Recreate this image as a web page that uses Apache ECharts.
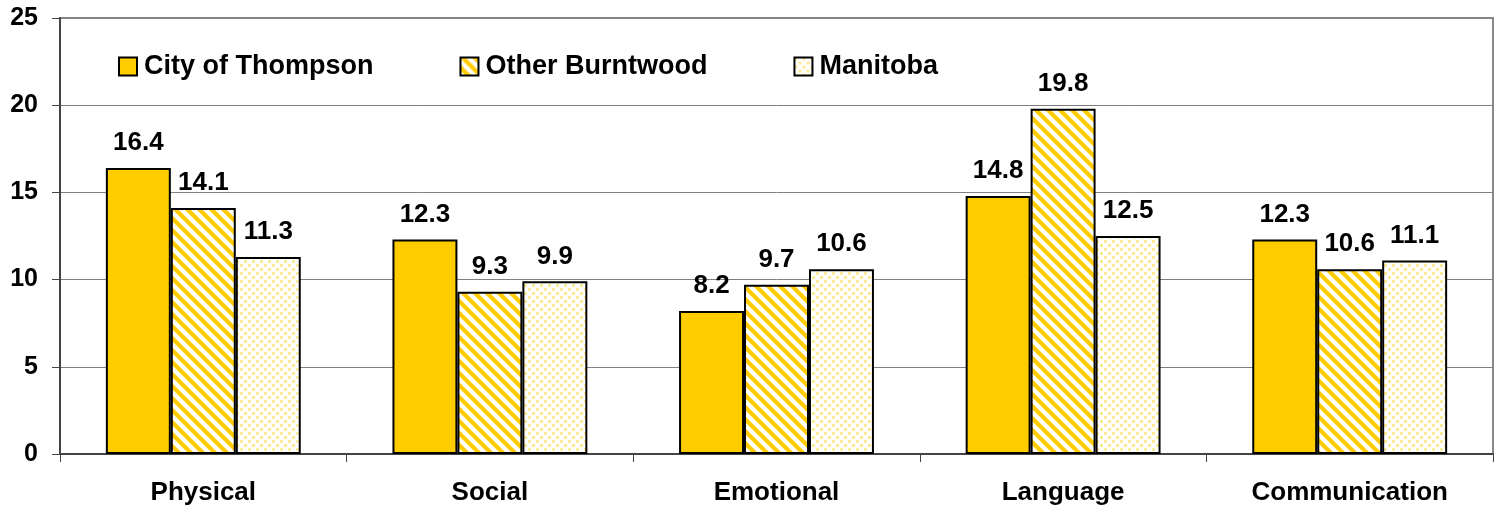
<!DOCTYPE html>
<html>
<head>
<meta charset="utf-8">
<script src="https://cdn.jsdelivr.net/npm/echarts@6/dist/echarts.min.js"></script>
<style>
html,body{margin:0;padding:0;background:#fff;}
#chart{width:1499px;height:510px;}
</style>
</head>
<body>
<div id="chart"></div>
<script>
var categories = ['Physical', 'Social', 'Emotional', 'Language', 'Communication'];
var seriesNames = ['City of Thompson', 'Other Burntwood', 'Manitoba'];
var thompson = [16.4, 12.3, 8.2, 14.8, 12.3];
var burntwood = [14.1, 9.3, 9.7, 19.8, 10.6];
var manitoba = [11.3, 9.9, 10.6, 12.5, 11.1];
var yTicks = [0, 5, 10, 15, 20, 25];

var YELLOW = '#FFCC00';

function stripeCanvas() {
  var N = 12;
  var c = document.createElement('canvas');
  c.width = N; c.height = N;
  var ctx = c.getContext('2d');
  var img = ctx.createImageData(N, N);
  for (var y = 0; y < N; y++) {
    for (var x = 0; x < N; x++) {
      var d = (((x - y) % N) + N) % N;
      var i = (y * N + x) * 4;
      var cov;
      if (d < 5) cov = 1;
      else if (d < 6) cov = 0.5;
      else if (d === N - 1) cov = 0.5;
      else cov = 0;
      img.data[i] = 255;
      img.data[i + 1] = Math.round(255 - cov * (255 - 204));
      img.data[i + 2] = Math.round(255 - cov * 255);
      img.data[i + 3] = 255;
    }
  }
  ctx.putImageData(img, 0, 0);
  return c;
}

function dotCanvas() {
  var N = 8;
  var c = document.createElement('canvas');
  c.width = N; c.height = N;
  var ctx = c.getContext('2d');
  ctx.fillStyle = '#FFFFFF';
  ctx.fillRect(0, 0, N, N);
  function dot(x, y) {
    ctx.fillStyle = 'rgba(255,204,0,0.35)';
    ctx.fillRect(x - 1, y - 1, 3, 3);
    ctx.fillStyle = 'rgba(255,204,0,0.6)';
    ctx.fillRect(x, y, 1, 1);
  }
  dot(1, 1);
  dot(5, 5);
  return c;
}

var stripeFill = { image: stripeCanvas(), repeat: 'repeat' };
var dotFill = { image: dotCanvas(), repeat: 'repeat' };

var FONT = 'Liberation Sans, Arial, sans-serif';

function makeSeries(name, data, fill) {
  return {
    name: name,
    type: 'bar',
    data: data,
    barGap: '0%',
    barCategoryGap: '32%',
    itemStyle: { color: fill, borderColor: '#000', borderWidth: 2 },
    label: {
      show: true,
      position: 'top',
      distance: 12,
      color: '#000',
      fontFamily: FONT,
      fontWeight: 'bold',
      fontSize: 26,
      formatter: function (p) { return p.value.toFixed(1); }
    }
  };
}

var chart = echarts.init(document.getElementById('chart'), null, { renderer: 'canvas' });
chart.setOption({
  animation: false,
  backgroundColor: '#fff',
  grid: {
    left: 60, right: 6, top: 18, bottom: 56,
    show: true, borderColor: '#888', borderWidth: 2, backgroundColor: 'transparent'
  },
  legend: {
    left: 118, top: 53,
    padding: 0,
    icon: 'rect',
    itemWidth: 18, itemHeight: 18,
    itemGap: 86,
    textStyle: { fontFamily: FONT, fontWeight: 'bold', fontSize: 27, color: '#000', padding: [0, 0, 0, 2] },
    data: seriesNames
  },
  xAxis: {
    type: 'category',
    data: categories,
    axisLine: { lineStyle: { color: '#444', width: 2 } },
    axisTick: { show: true, length: 8, lineStyle: { color: '#444', width: 1 } },
    axisLabel: { margin: 26, color: '#000', fontFamily: FONT, fontWeight: 'bold', fontSize: 26 }
  },
  yAxis: {
    type: 'value',
    min: yTicks[0],
    max: yTicks[yTicks.length - 1],
    interval: 5,
    axisLine: { show: true, lineStyle: { color: '#444', width: 2 } },
    axisTick: { show: true, length: 8, lineStyle: { color: '#444', width: 1 } },
    splitLine: { show: true, lineStyle: { color: '#808080', width: 1 } },
    axisLabel: { margin: 22, color: '#000', fontFamily: FONT, fontWeight: 'bold', fontSize: 25 }
  },
  series: [
    makeSeries(seriesNames[0], thompson, YELLOW),
    makeSeries(seriesNames[1], burntwood, stripeFill),
    makeSeries(seriesNames[2], manitoba, dotFill)
  ]
});
</script>
</body>
</html>
